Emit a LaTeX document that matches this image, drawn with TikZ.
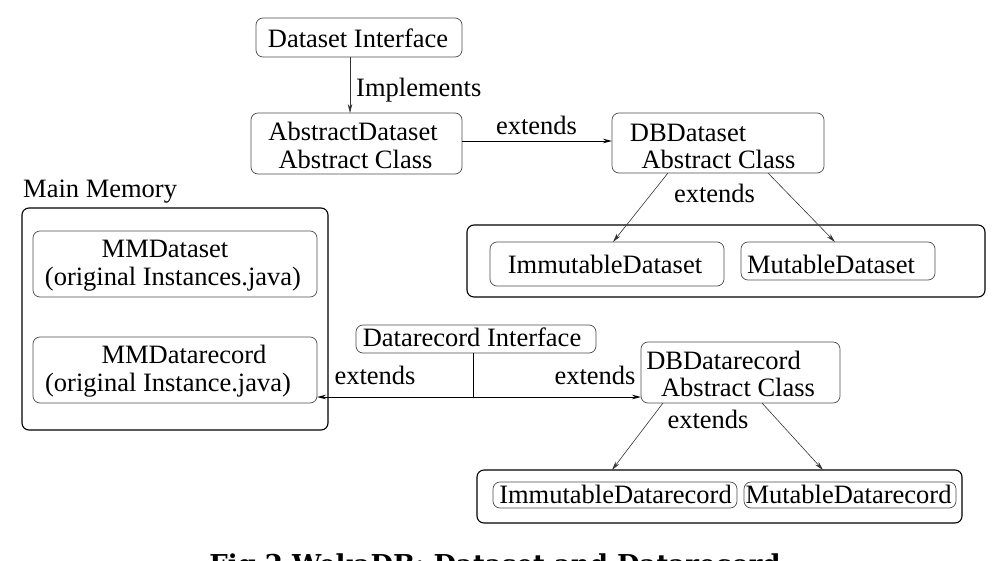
\documentclass[tikz,border=0pt]{standalone}
\usepackage{fontspec}
\setmainfont{Liberation Serif}
\newfontfamily\capfont{DejaVu Serif}
\usetikzlibrary{arrows.meta}
\tikzset{
  outerbox/.style={draw=black, line width=1.1pt, rounded corners=7pt, inner sep=0pt, outer sep=0pt},
  innerbox/.style={draw=black!70, line width=0.7pt, rounded corners=7pt, inner sep=0pt, outer sep=0pt},
  lbl/.style={inner sep=0pt, font=\fontsize{26.5}{29}\selectfont, anchor=base},
  conn/.style={draw=black!80, line width=0.6pt, -{Stealth[length=9pt,width=4.5pt]}},
  hconn/.style={line width=1pt, -{Stealth[length=9pt,width=4.5pt]}},
  plain/.style={line width=0.8pt},
}
\begin{document}
\begin{tikzpicture}[x=1pt,y=-1pt]
\useasboundingbox (0,0) rectangle (996,560);
% boxes
\node[innerbox, minimum width=206pt, minimum height=39pt] (di) at (359,37.5) {};
\node[innerbox, minimum width=211pt, minimum height=61pt] (ad) at (356.5,143.5) {};
\node[innerbox, minimum width=212pt, minimum height=60pt] (dbd) at (718,143) {};
\node[outerbox, minimum width=518pt, minimum height=72pt] (dso) at (726,261) {};
\node[innerbox, minimum width=234pt, minimum height=44pt] (imd) at (607,264) {};
\node[innerbox, minimum width=194pt, minimum height=38pt] (md) at (838,261) {};
\node[outerbox, minimum width=306pt, minimum height=222pt] (mm) at (175,319) {};
\node[innerbox, minimum width=284pt, minimum height=66pt] (mmd) at (175,264) {};
\node[innerbox, minimum width=284pt, minimum height=66pt] (mmdr) at (175,370) {};
\node[innerbox, minimum width=240pt, minimum height=28pt] (dri) at (476,339) {};
\node[innerbox, minimum width=199pt, minimum height=61pt] (dbdr) at (740.5,372.5) {};
\node[outerbox, minimum width=485pt, minimum height=53pt] (dro) at (719.5,496.5) {};
\node[innerbox, minimum width=244pt, minimum height=26pt] (imdr) at (615,495) {};
\node[innerbox, minimum width=212pt, minimum height=26pt] (mdr) at (850,495) {};
% texts
\node[lbl] (tdi) at (358,47) {Dataset Interface};
\node[lbl, anchor=base west] (timpl) at (356,96) {Implements};
\node[lbl] (tad1) at (353,140) {AbstractDataset};
\node[lbl] (tad2) at (355.5,168) {Abstract Class};
\node[lbl] (text1) at (536.5,134) {extends};
\node[lbl] (tdbd1) at (688,141) {DBDataset};
\node[lbl] (tdbd2) at (718.5,168) {Abstract Class};
\node[lbl] (text2) at (714.5,202) {extends};
\node[lbl] (timd) at (605,273) {ImmutableDataset};
\node[lbl] (tmd) at (831,273) {MutableDataset};
\node[lbl, anchor=base west] (tmm) at (23,197) {Main Memory};
\node[lbl] (tmmd1) at (165,257) {MMDataset};
\node[lbl] (tmmd2) at (173,285) {(original Instances.java)};
\node[lbl] (tmmdr1) at (184,363) {MMDatarecord};
\node[lbl] (tmmdr2) at (168,391) {(original Instance.java)};
\node[lbl] (tdri) at (472,346) {Datarecord Interface};
\node[lbl] (text3) at (375,384) {extends};
\node[lbl] (text4) at (595,384) {extends};
\node[lbl] (tdbdr1) at (723.5,369) {DBDatarecord};
\node[lbl] (tdbdr2) at (738,396) {Abstract Class};
\node[lbl] (text5) at (708,428) {extends};
\node[lbl] (timdr) at (615.5,503) {ImmutableDatarecord};
\node[lbl] (tmdr) at (848.5,503) {MutableDatarecord};
\node[inner sep=0pt, anchor=base, font=\capfont\bfseries\fontsize{26}{30}\selectfont] (cap) at (495,573) {Fig.2 WekaDB: Dataset and Datarecord};
% connectors
\draw[conn] ([xshift=-9pt]di.south) -- ([xshift=-6.5pt]ad.north);
\draw[hconn] ([yshift=2.5pt]ad.east) -- ([yshift=2.5pt]ad.east -| dbd.west);
\draw[conn] ([xshift=-50pt]dbd.south) -- ([xshift=6pt]imd.north);
\draw[conn] ([xshift=50pt]dbd.south) -- ([xshift=-3pt]md.north);
\coordinate (j) at (473,397);
\draw[plain] (dri.south -| j) -- (j);
\draw[hconn] (j) -- (j -| mmdr.east);
\draw[hconn] (j) -- (j -| dbdr.west);
\draw[conn] ([xshift=-77.5pt]dbdr.south) -- ([xshift=-107.5pt]dro.north);
\draw[conn] ([xshift=21.5pt]dbdr.south) -- ([xshift=103.5pt]dro.north);
\end{tikzpicture}
\end{document}
